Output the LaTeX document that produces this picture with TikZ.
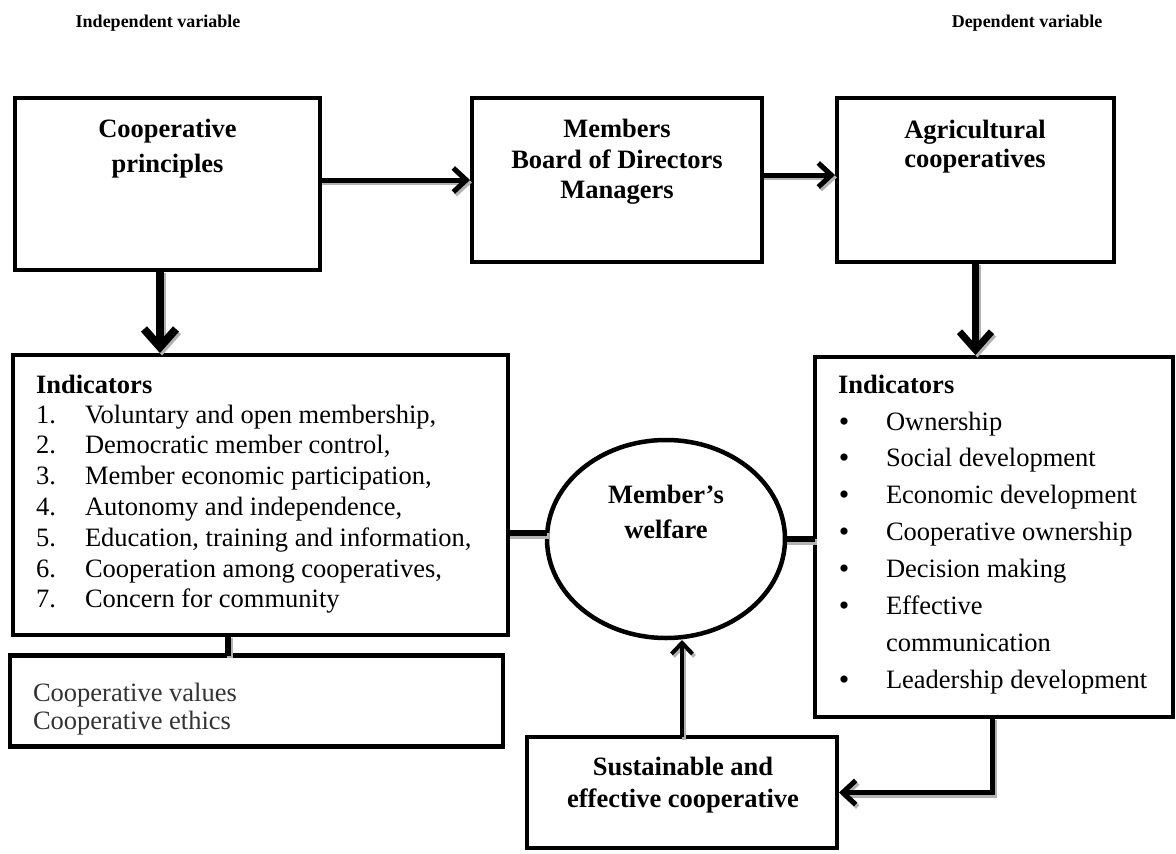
\documentclass[tikz,border=0pt]{standalone}
\usepackage{fontspec}
\setmainfont{Liberation Serif}
\usetikzlibrary{arrows.meta,shapes.geometric}
\definecolor{vgray}{HTML}{333333}
\newcommand\shadowdraw[2]{%
  \begin{scope}[transform canvas={xshift=2pt,yshift=-2.5pt}]
    \draw[#1, draw=gray!60] #2;
  \end{scope}
  \draw[#1] #2;}
\begin{document}
\begin{tikzpicture}[x=1pt,y=-1pt,
  every node/.style={inner sep=0pt, outer sep=0pt},
  box/.style={draw, line width=4.5pt, rectangle, fill=white},
  ttl/.style={anchor=base, font=\fontsize{26.5}{31}\selectfont\bfseries},
  body/.style={anchor=base west, font=\fontsize{26.5}{31}\selectfont},
  head/.style={anchor=base, font=\fontsize{18}{22}\selectfont\bfseries},
  link/.style={line width=#1},
  tipA/.style={-{Straight Barb[length=13pt,width=24pt]}, shorten >=2pt},
  tipS/.style={-{Straight Barb[length=11pt,width=21pt]}, shorten >=2pt},
  tipB/.style={-{Straight Barb[length=18pt,width=32pt]}, shorten >=2pt},
]
\useasboundingbox (0,0) rectangle (1176,854);
\fill[white] (0,0) rectangle (1176,854);

% headings
\node[head] (hi) at (158,27) {Independent variable};
\node[head] (hd) at (1027,27) {Dependent variable};

% boxes
\node[box, minimum width=305pt, minimum height=172pt] (cp) at (167.5,184) {};
\node[box, minimum width=290pt, minimum height=164pt] (mem) at (617,180) {};
\node[box, minimum width=277pt, minimum height=164pt] (agr) at (975.5,180) {};
\node[box, minimum width=495pt, minimum height=280pt] (indL) at (260.5,495) {};
\node[box, minimum width=493pt, minimum height=91pt] (val) at (256.5,701) {};
\node[box, minimum width=358pt, minimum height=360pt] (indR) at (994,537) {};
\node[box, minimum width=310pt, minimum height=111pt] (sus) at (682,792.5) {};
\node[draw, ellipse, line width=4.5pt, fill=white, minimum width=238pt, minimum height=198pt] (wel) at (666,539) {};

% connectors
\coordinate (c0) at ([yshift=5pt]mem.east);
\coordinate (c1) at ([xshift=-7.5pt]cp.south);
\coordinate (c2) at (228,0);
\coordinate (c3) at ([yshift=6pt]wel.west);
\coordinate (c4) at (992,0);
\shadowdraw{link=5pt, tipA}{(cp.east |- mem.west) -- (mem.west)}
\shadowdraw{link=5pt, tipA}{(c0) -- (c0 -| agr.west)}
\shadowdraw{link=8pt, tipB}{(c1) -- (c1 |- indL.north)}
\shadowdraw{link=7pt, tipB}{(agr.south) -- (agr.south |- indR.north)}
\shadowdraw{link=6pt}{(c2 |- indL.south) -- (c2 |- val.north)}
\shadowdraw{link=6pt}{(c3 -| indL.east) -- (c3)}
\shadowdraw{link=6pt}{(wel.east) -- (wel.east -| indR.west)}
\shadowdraw{link=4pt, tipS}{(sus.north) -- (sus.north |- wel.south)}
\shadowdraw{link=5pt, tipA}{(c4 |- indR.south) |- (sus.east)}

% titles
\node[ttl] (t1) at (167.5,137) {Cooperative};
\node[ttl] (t2) at (167.5,172) {principles};
\node[ttl] (t3) at (617,137) {Members};
\node[ttl] (t4) at (617,168) {Board of Directors};
\node[ttl] (t5) at (617,198) {Managers};
\node[ttl] (t6) at (975,138) {Agricultural};
\node[ttl] (t7) at (975,167) {cooperatives};
\node[ttl] (t8) at (666,503) {Member’s};
\node[ttl] (t9) at (666,538) {welfare};
\node[ttl] (t10) at (683,775) {Sustainable and};
\node[ttl] (t11) at (683,807) {effective cooperative};

% left list
\node[body, font=\fontsize{26.5}{31}\selectfont\bfseries] (li0) at (36,393) {Indicators};
\foreach \t [count=\i] in {{Voluntary and open membership,},{Democratic member control,},{Member economic participation,},{Autonomy and independence,},{Education, training and information,},{Cooperation among cooperatives,},{Concern for community}}{
  \node[body] (ln\i) at (36,{423+30.8*(\i-1)}) {\i.};
  \node[body] (lt\i) at (85,{423+30.8*(\i-1)}) {\t};
}

% right list
\node[body, font=\fontsize{26.5}{31}\selectfont\bfseries] (ri0) at (838,393) {Indicators};
\foreach \t/\k [count=\i] in {Ownership/0,Social development/1,Economic development/2,Cooperative ownership/3,Decision making/4,Effective/5,Leadership development/7}{
  \node[anchor=base, font=\fontsize{30}{31}\selectfont] (rb\i) at (844,{431+36.9*\k}) {\textbullet};
  \node[body] (rt\i) at (886,{430+36.9*\k}) {\t};
}
\node[body] (rt8) at (886,{430+36.9*6}) {communication};

% values box
\node[body, text=vgray] (v1) at (33,701) {Cooperative values};
\node[body, text=vgray] (v2) at (33,729) {Cooperative ethics};
\end{tikzpicture}
\end{document}
